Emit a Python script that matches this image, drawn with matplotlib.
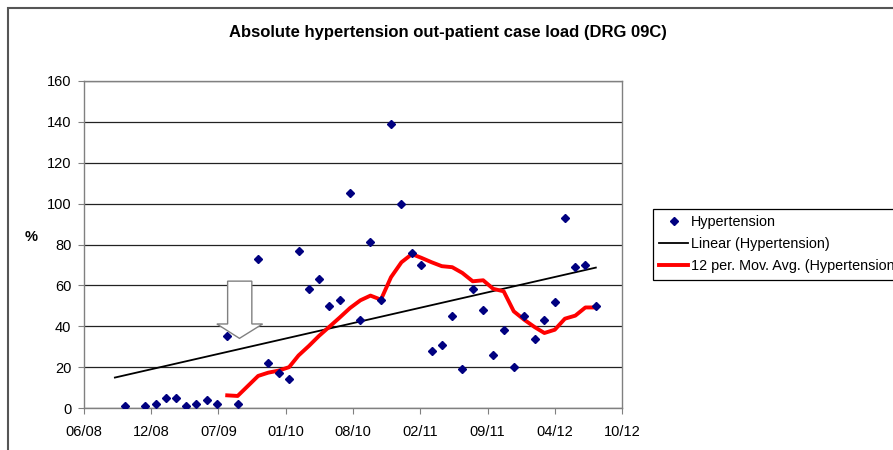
import numpy as np
import pandas as pd
import matplotlib
matplotlib.use("Agg")
import matplotlib.pyplot as plt
from matplotlib.patches import Polygon, Rectangle

plt.rcParams['font.family'] = ['Liberation Sans', 'DejaVu Sans']

# monthly case load (first of month), gaps where the sheet had no value
months = ["2008-10", "2008-12", "2009-01", "2009-02", "2009-03", "2009-04",
          "2009-05", "2009-06", "2009-07", "2009-08", "2009-09", "2009-11",
          "2009-12", "2010-01", "2010-02", "2010-03", "2010-04", "2010-05",
          "2010-06", "2010-07", "2010-08", "2010-09", "2010-10", "2010-11",
          "2010-12", "2011-01", "2011-02", "2011-03", "2011-04", "2011-05",
          "2011-06", "2011-07", "2011-08", "2011-09", "2011-10", "2011-11",
          "2011-12", "2012-01", "2012-02", "2012-03", "2012-04", "2012-05",
          "2012-06", "2012-07", "2012-08"]
hypertension = [1, 1, 2, 5, 5, 1, 2, 4, 2, 35, 2, 73,
                22, 17, 14, 77, 58, 63, 50, 53, 105, 43, 81, 53,
                139, 100, 76, 70, 28, 31, 45, 19, 58, 48, 26, 38,
                20, 45, 34, 43, 52, 93, 69, 70, 50]

# 12 per. moving average as drawn in the chart
ma_months = ["2009-08", "2009-09", "2009-11", "2009-12", "2010-01", "2010-02",
             "2010-03", "2010-04", "2010-05", "2010-06", "2010-07", "2010-08",
             "2010-09", "2010-10", "2010-11", "2010-12", "2011-01", "2011-02",
             "2011-03", "2011-04", "2011-05", "2011-06", "2011-07", "2011-08",
             "2011-09", "2011-10", "2011-11", "2011-12", "2012-01", "2012-02",
             "2012-03", "2012-04", "2012-05", "2012-06", "2012-07", "2012-08"]
moving_avg = [6.2, 5.9, 15.7, 17.3, 18.3, 20.0,
              25.7, 30.4, 35.3, 39.8, 44.2, 48.9,
              52.7, 55.0, 53.0, 64.0, 71.3, 75.3,
              73.5, 71.3, 69.4, 68.9, 66.1, 62.0,
              62.5, 58.3, 57.1, 47.3, 43.2, 39.6,
              36.7, 38.3, 43.7, 45.2, 49.2, 49.2]

# linear trend end points
trend_months = ["2008-09", "2012-08"]
trend_vals = [14.9, 68.7]

x_labels = ["06/08", "12/08", "07/09", "01/10", "08/10",
            "02/11", "09/11", "04/12", "10/12"]

x_start = pd.Timestamp("2008-06-01")
step = pd.Timedelta(days=200)
x_ticks = [x_start + i * step for i in range(len(x_labels))]

fig = plt.figure(figsize=(8.93, 4.5), dpi=100)
ax = fig.add_axes([0.094, 0.0933, 0.6026, 0.7267])

grey = "#808080"

ax.plot(pd.to_datetime(months), hypertension, linestyle="none", marker="D",
        ms=3.6, color="#000080", label="Hypertension", zorder=4)
ax.plot(pd.to_datetime(trend_months), trend_vals, color="black", lw=1.3,
        label="Linear (Hypertension)", zorder=3)
ax.plot(pd.to_datetime(ma_months), moving_avg, color="red", lw=2.8,
        solid_joinstyle="round", label="12 per. Mov. Avg. (Hypertension)", zorder=3)

ax.set_xlim(x_ticks[0], x_ticks[-1])
ax.set_ylim(0, 160)
ax.set_xticks(x_ticks)
ax.set_xticklabels(x_labels)
ax.set_yticks(np.arange(0, 161, 20))
ax.yaxis.grid(True, color="#222222", lw=0.9)
ax.set_axisbelow(True)
for s in ax.spines.values():
    s.set_color(grey)
    s.set_linewidth(1.0)
ax.tick_params(axis="both", direction="out", length=4, color=grey,
               labelsize=10.5, pad=5)
ax.tick_params(axis="x", pad=8)

# white arrow pointing down (axes fraction)
arrow = Polygon([(0.267, 0.388), (0.312, 0.388), (0.312, 0.257),
                 (0.332, 0.257), (0.289, 0.213), (0.247, 0.257),
                 (0.267, 0.257)], closed=True, transform=ax.transAxes,
                facecolor="white", edgecolor=grey, lw=1.0, zorder=5)
ax.add_patch(arrow)

fig.text(0.502, 0.927, "Absolute hypertension out-patient case load (DRG 09C)",
         ha="center", va="center", fontsize=12, fontweight="bold")
fig.text(0.035, 0.473, "%", ha="center", va="center", fontsize=10.5,
         fontweight="bold")

leg = ax.legend(loc="upper left", bbox_to_anchor=(0.731, 0.5356),
                bbox_transform=fig.transFigure, borderaxespad=0,
                fancybox=False, edgecolor="black", fontsize=10.4,
                handlelength=2.0, handletextpad=0.2, borderpad=0.45,
                labelspacing=0.55, framealpha=1)
leg.get_frame().set_linewidth(0.9)

# chart area border (extends past right and bottom edge)
fig.patches.append(Rectangle((0.009, -0.1), 1.2, 1.082, transform=fig.transFigure,
                             fill=False, edgecolor="#555555", lw=1.5))

fig.savefig("out.png", dpi=100)
